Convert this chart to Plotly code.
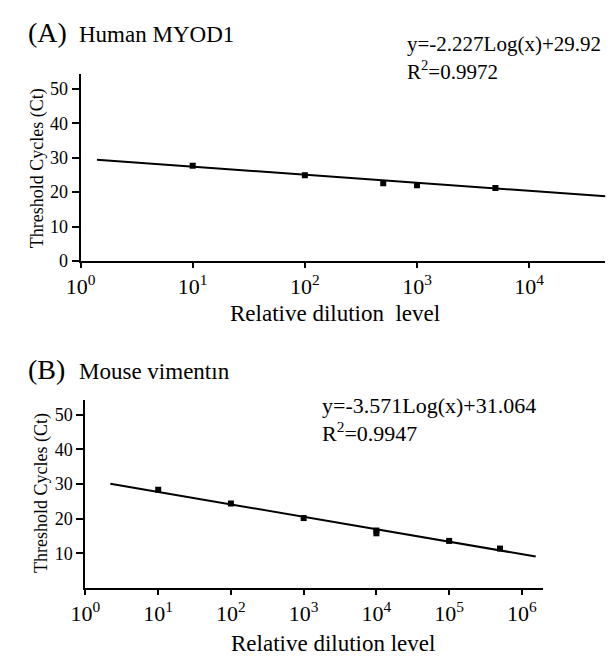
import plotly.graph_objects as go

W, H = 614, 657
FONT = "Liberation Serif"

# ---------------- data ----------------
a_title = "Human MYOD1"
a_x = [10, 100, 500, 1000, 5000]
a_y = [27.7, 24.9, 22.6, 22.0, 21.2]
a_fit_x = [1.4, 48000]
a_fit_y = [29.4, 18.8]
a_eq = "y=-2.227Log(x)+29.92"
a_r2 = "R<sup>2</sup>=0.9972"

b_title = "Mouse vimentın"
b_x = [10, 100, 1000, 10000, 10000, 100000, 500000]
b_y = [28.4, 24.4, 20.2, 16.6, 15.8, 13.6, 11.4]
b_fit_x = [2.2, 1.55e6]
b_fit_y = [30.1, 9.1]
b_eq = "y=-3.571Log(x)+31.064"
b_r2 = "R<sup>2</sup>=0.9947"

a_xticks = [1, 10, 100, 1000, 10000]
a_xticktext = ["10<sup>0</sup>", "10<sup>1</sup>", "10<sup>2</sup>", "10<sup>3</sup>", "10<sup>4</sup>"]
b_xticks = [1, 10, 100, 1000, 10000, 100000, 1000000]
b_xticktext = ["10<sup>0</sup>", "10<sup>1</sup>", "10<sup>2</sup>", "10<sup>3</sup>",
               "10<sup>4</sup>", "10<sup>5</sup>", "10<sup>6</sup>"]
a_yticks = [0, 10, 20, 30, 40, 50]
b_yticks = [10, 20, 30, 40, 50]

ytitle = "Threshold Cycles (Ct)"
xtitle_a = "Relative dilution\u00a0 level"
xtitle_b = "Relative dilution level"


def px(x):
    return x / W


def py(y):
    return 1 - y / H


fig = go.Figure()

for xs, ys, fx, fy, xa, ya in [
    (a_x, a_y, a_fit_x, a_fit_y, "x", "y"),
    (b_x, b_y, b_fit_x, b_fit_y, "x2", "y2"),
]:
    fig.add_trace(go.Scatter(x=fx, y=fy, mode="lines", line=dict(color="black", width=2),
                             xaxis=xa, yaxis=ya, showlegend=False, hoverinfo="skip"))
    fig.add_trace(go.Scatter(x=xs, y=ys, mode="markers",
                             marker=dict(symbol="square", size=6, color="black"),
                             xaxis=xa, yaxis=ya, showlegend=False))

common_x = dict(type="log", showgrid=False, zeroline=False, showline=True, linecolor="black",
                linewidth=2, ticks="outside", ticklen=5, tickwidth=1.5, tickcolor="black",
                tickfont=dict(family=FONT, size=22, color="black"))
common_y = dict(showgrid=False, zeroline=False, showline=True, linecolor="black",
                linewidth=2, ticks="outside", ticklen=7, tickwidth=1.5, tickcolor="black",
                ticklabelstandoff=0,
                tickfont=dict(family=FONT, size=18, color="black"), range=[0, 54.3])

fig.update_layout(
    width=W, height=H,
    margin=dict(l=0, r=0, t=0, b=0),
    paper_bgcolor="white", plot_bgcolor="white",
    xaxis=dict(common_x, domain=[px(59), px(597)], range=[0, 4.68], anchor="y",
               tickvals=a_xticks, ticktext=a_xticktext),
    yaxis=dict(common_y, domain=[py(257), py(67)], anchor="x", tickvals=a_yticks),
    xaxis2=dict(common_x, domain=[px(64), px(533)], range=[0, 6.29], anchor="y2",
                tickvals=b_xticks, ticktext=b_xticktext),
    yaxis2=dict(common_y, domain=[py(589), py(398)], anchor="x2", tickvals=b_yticks),
)

ann = []


def text(x, y, s, size, xanchor="left", angle=0):
    ann.append(dict(x=px(x), y=py(y), xref="paper", yref="paper", text=s, showarrow=False,
                    xanchor=xanchor, yanchor="middle", textangle=angle,
                    font=dict(family=FONT, size=size, color="black")))


# panel titles
text(3, 25, "(A)", 28)
text(55, 27, a_title, 23)
text(3, 367, "(B)", 28)
text(55, 369, b_title, 23)

# equations
text(392, 37, a_eq, 21)
text(392, 63, a_r2, 21)
text(304, 404, b_eq, 22)
text(304, 431, b_r2, 22)

# axis titles
text(15, 163, ytitle, 18, xanchor="center", angle=-90)
text(19, 493, ytitle, 18, xanchor="center", angle=-90)
text(320, 310, xtitle_a, 23, xanchor="center")
text(318, 645, xtitle_b, 23, xanchor="center")

fig.update_layout(annotations=ann)
fig.write_html("out.html")
